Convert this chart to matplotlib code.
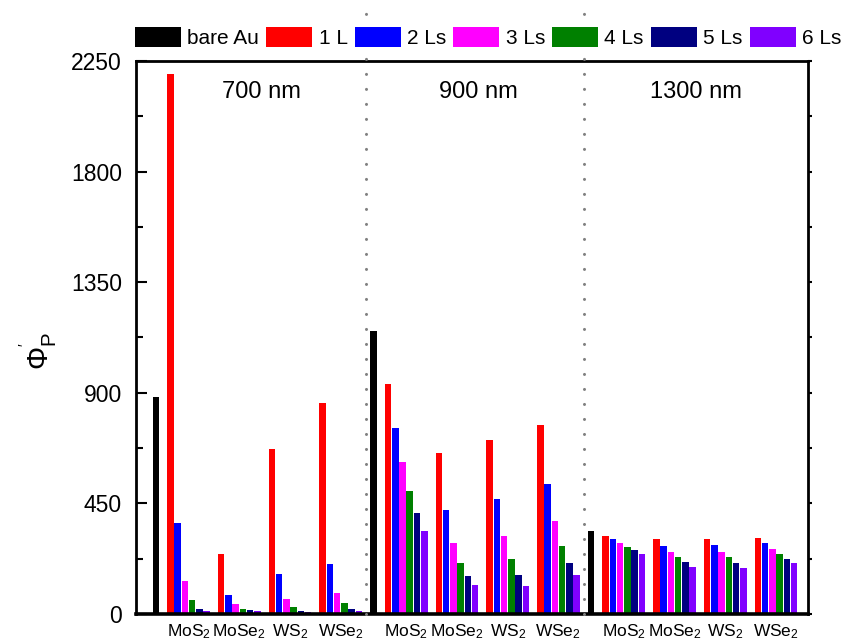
import numpy as np
import matplotlib
matplotlib.use("Agg")
import matplotlib.pyplot as plt
from matplotlib.patches import Patch

plt.rcParams['font.family'] = ['Liberation Sans', 'DejaVu Sans']
plt.rcParams['mathtext.fontset'] = 'custom'
plt.rcParams['mathtext.rm'] = 'Liberation Sans'
plt.rcParams['mathtext.it'] = 'Liberation Sans:italic'
plt.rcParams['mathtext.bf'] = 'Liberation Sans:bold'

# Wellenlaengen und Materialien
sections = ['700 nm', '900 nm', '1300 nm']
materials = ['MoS$_2$', 'MoSe$_2$', 'WS$_2$', 'WSe$_2$']
series_names = ['bare Au', '1 L', '2 Ls', '3 Ls', '4 Ls', '5 Ls', '6 Ls']
colors = ['#000000', '#ff0000', '#0000ff', '#ff00ff', '#008000', '#000080', '#8000ff']

# bare Au: ein Wert pro Wellenlaenge
bare_au = [883, 1151, 337]
# Lagen: 700 nm (MoS2, MoSe2, WS2, WSe2), 900 nm (...), 1300 nm (...)
layer_1 = [2196, 243, 672, 859, 936, 654, 708, 768, 318, 304, 304, 310]
layer_2 = [369, 78, 161, 202, 757, 423, 467, 530, 304, 277, 280, 288]
layer_3 = [133, 39, 63, 87, 617, 289, 319, 379, 288, 252, 251, 266]
layer_4 = [58, 22, 27, 43, 500, 206, 223, 277, 272, 231, 231, 244]
layer_5 = [22, 15, 11, 22, 410, 153, 157, 206, 259, 210, 206, 224]
layer_6 = [11, 11, 9, 11, 337, 116, 115, 157, 243, 190, 187, 206]
layers = [layer_1, layer_2, layer_3, layer_4, layer_5, layer_6]

fig = plt.figure(figsize=(8.55, 6.42), dpi=100)
ax = fig.add_axes([0.159, 0.0436, 0.786, 0.8614])

bw = 0.9
# Positionen: pro Wellenlaenge 30 Plaetze, bare Au zuerst, dann 4 Gruppen a 7 Plaetze
au_x = np.array([30 * s for s in range(3)])
ax.bar(au_x, bare_au, width=bw, color=colors[0], zorder=2)
group_x = np.array([30 * s + 2 + 7 * c for s in range(3) for c in range(4)])
for i, vals in enumerate(layers):
    ax.bar(group_x + i, vals, width=bw, color=colors[i + 1], zorder=2)

ax.set_xlim(-2.75, 89.9)
ax.set_ylim(0, 2250)
ax.set_yticks([0, 450, 900, 1350, 1800, 2250])
ax.set_yticks([225, 675, 1125, 1575, 2025], minor=True)
ax.tick_params(axis='y', which='major', direction='in', length=8, width=1.5,
               labelsize=16.5, pad=10, right=False)
ax.tick_params(axis='y', which='minor', direction='in', length=5, width=1.5, right=False)
ax.set_xticks(group_x + 2.5)
ax.set_xticklabels(materials * 3, fontsize=12.5)
ax.tick_params(axis='x', length=0, pad=6)
for sp in ax.spines.values():
    sp.set_linewidth(2)
ax.spines['bottom'].set_linewidth(2.6)

# rechte Achse mit kurzen Ticks nach aussen
ax2 = ax.twinx()
ax2.set_ylim(0, 2250)
ax2.set_yticks([0, 450, 900, 1350, 1800, 2250])
ax2.set_yticks([225, 675, 1125, 1575, 2025], minor=True)
ax2.tick_params(axis='y', which='both', direction='out', length=3, width=1.5, labelright=False)
for sp in ax2.spines.values():
    sp.set_visible(False)

# gepunktete Trennlinien
for xs in [29, 59]:
    ax.axvline(xs, ymin=0, ymax=1.11, color='#808080', lw=2.2,
               linestyle=(0, (0.01, 4.9)), dash_capstyle='round', clip_on=False, zorder=3)

for s, name in enumerate(sections):
    ax.text(30 * s + 14.5, 2125, name, ha='center', va='center', fontsize=17)

ax.set_ylabel(r"$\Phi^{'}_{\rm P}$", fontsize=21)
ax.yaxis.set_label_coords(-0.115, 0.475)

handles = [Patch(facecolor=c, edgecolor='none') for c in colors]
fig.legend(handles, series_names, loc='center', bbox_to_anchor=(0.571, 0.941), ncol=7,
           frameon=False, fontsize=15, handlelength=2.2, handleheight=1.1,
           handletextpad=0.3, columnspacing=0.35, borderpad=0, borderaxespad=0)

fig.savefig('out.png', dpi=100)
